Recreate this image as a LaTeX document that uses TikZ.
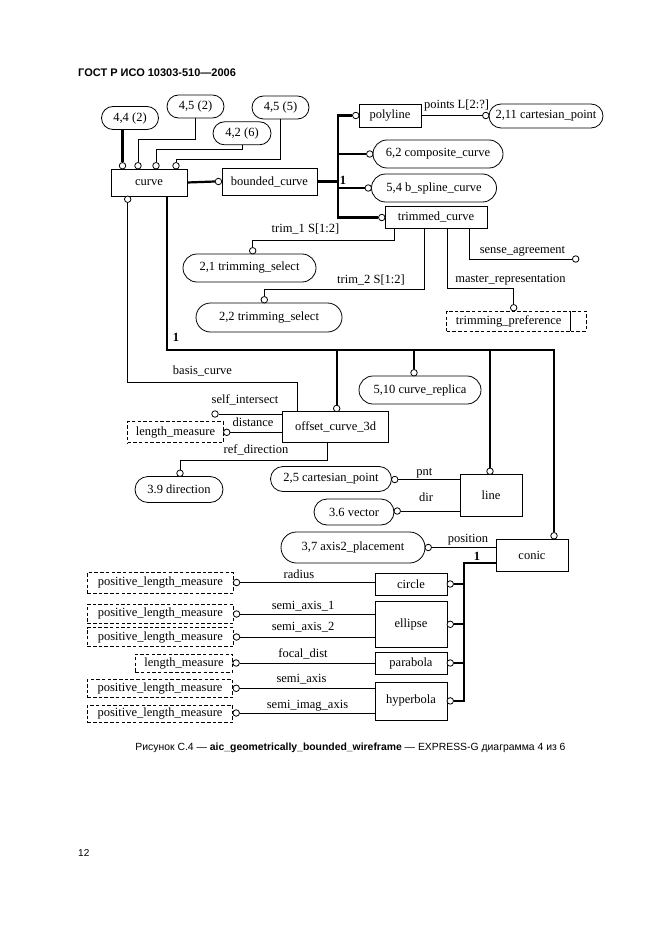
\documentclass[tikz,border=0pt]{standalone}
\usepackage{fontspec}
\setmainfont{Liberation Serif}
\newfontfamily\hsans{Liberation Sans}
\usetikzlibrary{shapes.misc}
\begin{document}
\begin{tikzpicture}[x=1pt,y=-1pt,
  every node/.style={font=\fontsize{12.5}{14}\selectfont, inner sep=0pt},
  ent/.style={draw, rectangle, line width=0.8pt},
  ov/.style={draw, rounded rectangle, line width=0.8pt},
  dbox/.style={draw, dash pattern=on 3.5pt off 2.2pt, line width=0.8pt},
  circ/.style={circle, draw, fill=white, minimum size=6.5pt, line width=0.8pt},
  thn/.style={line width=0.8pt},
  thk/.style={line width=2.2pt},
  lbl/.style={text height=8.5pt, text depth=2.5pt},
  one/.style={font=\fontsize{12.5}{14}\selectfont\bfseries}
]
\useasboundingbox[fill=white] (0,0) rectangle (661,936);

% header, caption, page number
\node[font=\hsans\bfseries\fontsize{11}{13}\selectfont, anchor=west] (hdr) at (78,73) {ГОСТ Р ИСО 10303-510—2006};
\node[font=\hsans\fontsize{10.4}{12}\selectfont] (cap) at (350.5,748) {Рисунок С.4 — \textbf{aic\_geometrically\_bounded\_wireframe} — EXPRESS-G диаграмма 4 из 6};
\node[font=\hsans\fontsize{10}{12}\selectfont, anchor=west] (pg) at (78,853) {12};

% top references
\node[ov, minimum width=57pt, minimum height=23pt] (o44) at (130,118) {4,4 (2)};
\node[ov, minimum width=57pt, minimum height=23pt] (o45a) at (195.5,106.5) {4,5 (2)};
\node[ov, minimum width=57pt, minimum height=23pt] (o45b) at (280.5,107.5) {4,5 (5)};
\node[ov, minimum width=58pt, minimum height=23pt] (o42) at (242,133.3) {4,2 (6)};

% entities
\node[ent, minimum width=76pt, minimum height=27pt] (curve) at (149,182.5) {curve};
\node[ent, minimum width=95pt, minimum height=27pt] (bc) at (269.5,181.5) {bounded\_curve};
\node[ent, minimum width=62pt, minimum height=23pt] (poly) at (390,115.5) {polyline};
\node[ov, minimum width=114pt, minimum height=24pt] (cp211) at (546,116) {2,11 cartesian\_point};
\node[ov, minimum width=130pt, minimum height=28pt] (comp) at (438,154) {6,2 composite\_curve};
\node[ov, minimum width=125pt, minimum height=28pt] (bsp) at (434,188) {5,4 b\_spline\_curve};
\node[ent, minimum width=102pt, minimum height=22pt] (trim) at (436,217) {trimmed\_curve};
\node[ov, minimum width=133pt, minimum height=28pt] (ts1) at (249.5,268) {2,1 trimming\_select};
\node[ov, minimum width=146pt, minimum height=29pt] (ts2) at (269,317.5) {2,2 trimming\_select};
\node[dbox, minimum width=124pt, minimum height=20pt] (tp) at (508.7,321) {trimming\_preference};
\node[dbox, minimum width=15.3pt, minimum height=20pt] (tpx) at (578.35,321) {};
\node[ent, minimum width=106pt, minimum height=31pt] (off) at (335.7,427.2) {offset\_curve\_3d};
\node[dbox, minimum width=96pt, minimum height=21pt] (lm1) at (175.5,432.3) {length\_measure};
\node[ov, minimum width=88pt, minimum height=26pt] (dir39) at (179,489.5) {3.9 direction};
\node[ov, minimum width=122pt, minimum height=28pt] (rep) at (420,390) {5,10 curve\_replica};
\node[ent, minimum width=62pt, minimum height=42pt] (lin) at (491,495.5) {line};
\node[ov, minimum width=121pt, minimum height=25pt] (cp25) at (331,479) {2,5 cartesian\_point};
\node[ov, minimum width=80pt, minimum height=26pt] (vec) at (354,512) {3.6 vector};
\node[ent, minimum width=72pt, minimum height=32pt] (conic) at (532,555) {conic};
\node[ov, minimum width=144pt, minimum height=31pt] (axis) at (353,547.5) {3,7 axis2\_placement};
\node[ent, minimum width=72pt, minimum height=22pt] (ncircle) at (411,584) {circle};
\node[ent, minimum width=72pt, minimum height=46.7pt] (ell) at (411,624.3) {ellipse};
\node[ent, minimum width=72pt, minimum height=22pt] (par) at (411,663) {parabola};
\node[ent, minimum width=72pt, minimum height=38pt] (hyp) at (411,700.9) {hyperbola};
\node[dbox, minimum width=146pt, minimum height=20.7pt] (plm1) at (160.3,582.8) {positive\_length\_measure};
\node[dbox, minimum width=146pt, minimum height=19pt] (plm2) at (160.3,613.8) {positive\_length\_measure};
\node[dbox, minimum width=146pt, minimum height=19pt] (plm3) at (160.3,637.2) {positive\_length\_measure};
\node[dbox, minimum width=97.7pt, minimum height=18.3pt] (lm2) at (184,663.2) {length\_measure};
\node[dbox, minimum width=145.4pt, minimum height=18pt] (plm4) at (160,688.3) {positive\_length\_measure};
\node[dbox, minimum width=145.4pt, minimum height=17.7pt] (plm5) at (160,713.9) {positive\_length\_measure};

% circles
\node[circ] (c1) at (122.5,165.75) {};
\node[circ] (c2) at (138,165.75) {};
\node[circ] (c3) at (156,165.75) {};
\node[circ] (c4) at (176,165.75) {};
\node[circ] (cb) at (127.7,199.25) {};
\node[circ] (cbc) at (218.45,181.5) {};
\node[circ] (cpoly) at (355.75,115.5) {};
\node[circ] (ccp211) at (485.75,115.5) {};
\node[circ] (ccomp) at (369.75,154) {};
\node[circ] (cbsp) at (368.25,188) {};
\node[circ] (ctrim) at (381.75,217.5) {};
\node[circ] (cts1) at (252.7,250.75) {};
\node[circ] (cts2) at (264.3,299.75) {};
\node[circ] (ctp) at (513.7,307.75) {};
\node[circ] (csa) at (575.7,259) {};
\node[circ] (coff) at (336.7,408.45) {};
\node[circ] (crep) at (414,372.75) {};
\node[circ] (cline) at (490,471.25) {};
\node[circ] (ccon) at (554,535.75) {};
\node[circ] (csi) at (215,414) {};
\node[circ] (clm1) at (226.75,432.3) {};
\node[circ] (cdir) at (180,473.25) {};
\node[circ] (ccp25) at (394.75,479.5) {};
\node[circ] (cvec) at (397.25,511) {};
\node[circ] (caxis) at (428.25,547.5) {};
\node[circ] (cpl1) at (236.55,582.5) {};
\node[circ] (cpl2) at (236.55,614) {};
\node[circ] (cpl3) at (236.55,637) {};
\node[circ] (clm2) at (236.1,663) {};
\node[circ] (cpl4) at (236.2,688.3) {};
\node[circ] (cpl5) at (236.2,713) {};
\node[circ] (ccir) at (450.25,584) {};
\node[circ] (cell) at (450.25,624.3) {};
\node[circ] (cpar) at (450.25,663) {};
\node[circ] (chyp) at (450.25,700.9) {};

% connections at top
\draw[thk] (c1.north) -- (c1.north |- o44.south);
\draw[thn] (o45a.south) |- (c2 |- 0,139) -- (c2.north);
\draw[thn] (o42.south) |- (c3 |- 0,149) -- (c3.north);
\draw[thn] (o45b.south) |- (c4 |- 0,159) -- (c4.north);

\draw[thk] (curve.east) -- (cbc.west);
\draw[thk] (bc.east) -- (337.7,0 |- bc.east);
\draw[thk] (cpoly.west) -| (337.7,0 |- ctrim) -- (ctrim.west);
\draw[thk] (ccomp.west) -- (337.7,0 |- ccomp.west);
\draw[thk] (cbsp.west) -- (337.7,0 |- cbsp.west);
\node[one] (one1) at (343,180) {1};

\draw[thn] (poly.east) -- (ccp211.west);
\node[lbl] (lpts) at (456.5,106) {points L[2:?]};

% trimmed_curve attributes
\draw[thn] (394,0 |- trim.south) |- (cts1 |- 0,240.3) -- (cts1.north);
\node[lbl] (ltr1) at (305.5,229) {trim\_1 S[1:2]};
\draw[thn] (424,0 |- trim.south) |- (cts2 |- 0,289.3) -- (cts2.north);
\node[lbl] (ltr2) at (371,280.7) {trim\_2 S[1:2]};
\draw[thn] (447.3,0 |- trim.south) |- (ctp |- 0,288.3) -- (ctp.north);
\node[lbl] (lmr) at (510.5,279.3) {master\_representation};
\draw[thn] (469.3,0 |- trim.south) |- (csa.west);
\node[lbl] (lsa) at (522.5,250) {sense\_agreement};

% main subtype bus from curve
\draw[thk] (167.3,0 |- curve.south) |- (ccon |- 0,350) -- (ccon.north);
\node[one] (one2) at (176,337) {1};
\draw[thk] (coff.north) -- (coff |- 0,350);
\draw[thk] (crep.north) -- (crep |- 0,350);
\draw[thk] (cline.north) -- (cline |- 0,350);

% offset_curve_3d attributes
\draw[thn] (cb.south) |- (297,382.3) -- (297,0 |- off.north);
\node[lbl] (lbas) at (202.5,371.7) {basis\_curve};
\draw[thn] (csi.east) -- (off.west |- csi);
\node[lbl] (lsi) at (245,400.7) {self\_intersect};
\draw[thn] (clm1.east) -- (off.west |- clm1);
\node[lbl] (ldist) at (253,423.3) {distance};
\draw[thn] (327.7,0 |- off.south) |- (cdir |- 0,460.7) -- (cdir.north);
\node[lbl] (lref) at (256,450) {ref\_direction};

% line attributes
\draw[thn] (ccp25.east) -- (lin.west |- ccp25);
\node[lbl] (lpnt) at (424.3,472.7) {pnt};
\draw[thn] (cvec.east) -- (lin.west |- cvec);
\node[lbl] (ldir) at (426,498) {dir};

% conic
\draw[thn] (caxis.east) -- (conic.west |- caxis);
\node[lbl] (lpos) at (468,539.3) {position};
\draw[thk] (conic.west |- 0,563.3) -| (464,0 |- chyp) -- (chyp.east);
\draw[thk] (ccir.east) -- (464,0 |- ccir);
\draw[thk] (cell.east) -- (464,0 |- cell);
\draw[thk] (cpar.east) -- (464,0 |- cpar);
\node[one] (one3) at (477,556) {1};

% conic subtypes attributes
\draw[thn] (cpl1.east) -- (ncircle.west |- cpl1);
\node[lbl] (lrad) at (299,575.5) {radius};
\draw[thn] (cpl2.east) -- (ell.west |- cpl2);
\node[lbl] (lsa1) at (303,606.7) {semi\_axis\_1};
\draw[thn] (cpl3.east) -- (ell.west |- cpl3);
\node[lbl] (lsa2) at (303,627.3) {semi\_axis\_2};
\draw[thn] (clm2.east) -- (par.west |- clm2);
\node[lbl] (lfd) at (303,654) {focal\_dist};
\draw[thn] (cpl4.east) -- (hyp.west |- cpl4);
\node[lbl] (lsax) at (301.5,679) {semi\_axis};
\draw[thn] (cpl5.east) -- (hyp.west |- cpl5);
\node[lbl] (lsia) at (307.5,705) {semi\_imag\_axis};
\end{tikzpicture}
\end{document}
